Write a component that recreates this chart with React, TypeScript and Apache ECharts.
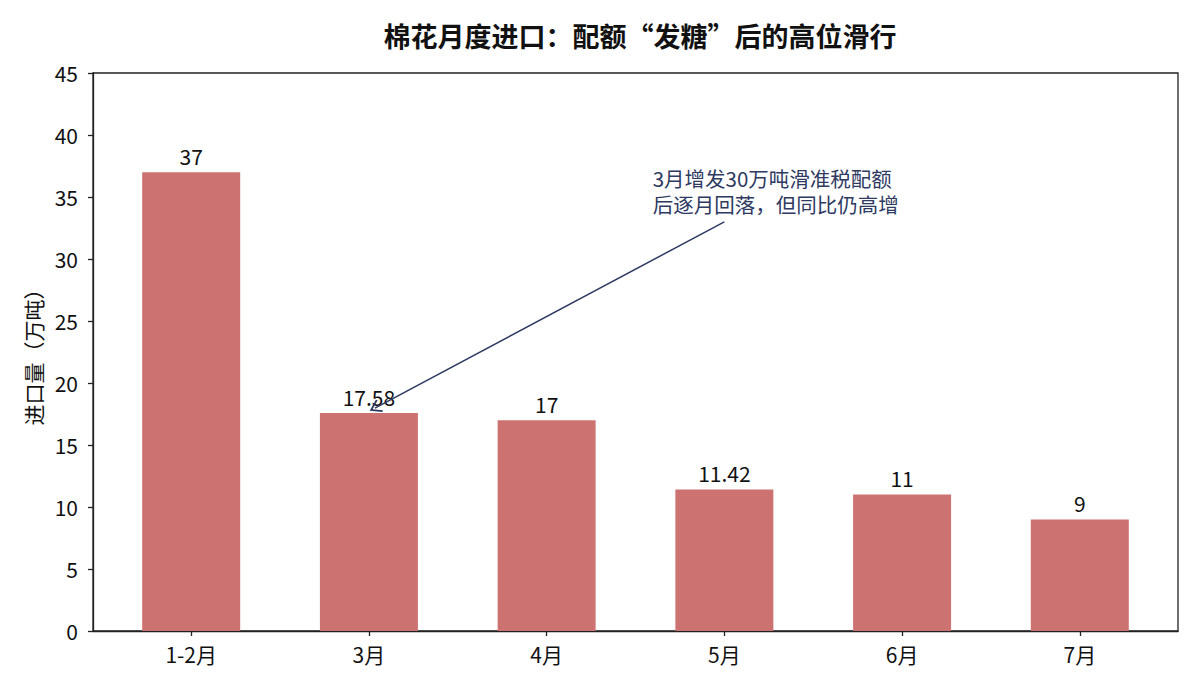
import React, { useEffect, useRef } from "react";
import * as echarts from "echarts";

const categories = ["1-2月", "3月", "4月", "5月", "6月", "7月"];
const importVolumes = [37, 17.58, 17, 11.42, 11, 9];
const yMin = 0;
const yMax = 45;
const yInterval = 5;
const xMin = -0.5525;
const xMax = 5.5525;

const titleText = "棉花月度进口：配额“发糖”后的高位滑行";
const yAxisName = "进口量（万吨）";
const noteLines = ["3月增发30万吨滑准税配额", "后逐月回落，但同比仍高增"];
const noteLineY = [36.55, 34.42];
const noteLeftX = 2.597;
const arrowFrom = [3.0, 33.0];
const arrowTo = [1.034, 17.98];

const FONT = "'Noto Sans CJK SC', 'Noto Sans', sans-serif";
const BAR_COLOR = "#CC7371";
const NOTE_COLOR = "#2E3A62";
const AXIS_COLOR = "#222222";
const FS = 21;

export default function App() {
  const ref = useRef<HTMLDivElement>(null);

  useEffect(() => {
    if (!ref.current) return;
    const chart = echarts.init(ref.current, null, { renderer: "svg" });
    const tickValues = categories.map((_, i) => i);
    chart.setOption({
      animation: false,
      backgroundColor: "#ffffff",
      textStyle: { fontFamily: FONT },
      title: {
        text: titleText,
        left: 635,
        top: 17,
        textAlign: "center",
        textStyle: { fontFamily: FONT, fontSize: 27, fontWeight: "bold", color: "#111" },
      },
      grid: {
        left: 93,
        right: 22,
        top: 73,
        bottom: 59,
        show: true,
        borderColor: AXIS_COLOR,
        borderWidth: 1.3,
        backgroundColor: "transparent",
      },
      xAxis: {
        type: "value",
        min: xMin,
        max: xMax,
        splitLine: { show: false },
        axisLine: { show: true, onZero: false, lineStyle: { color: AXIS_COLOR, width: 1.3 } },
        axisTick: {
          show: true,
          inside: false,
          length: 5,
          customValues: tickValues,
          lineStyle: { color: AXIS_COLOR, width: 1.3 },
        },
        axisLabel: {
          customValues: tickValues,
          margin: 12,
          fontSize: FS,
          color: "#111",
          fontFamily: FONT,
          formatter: (v: number) => {
            const i = Math.round(v);
            return Math.abs(v - i) < 1e-6 && categories[i] ? categories[i] : "";
          },
        },
      },
      yAxis: {
        type: "value",
        min: yMin,
        max: yMax,
        interval: yInterval,
        name: yAxisName,
        nameLocation: "middle",
        nameGap: 47,
        nameTextStyle: { fontSize: FS, color: "#111", fontFamily: FONT },
        splitLine: { show: false },
        axisLine: { show: true, onZero: false, lineStyle: { color: AXIS_COLOR, width: 1.3 } },
        axisTick: { show: true, inside: false, length: 5, lineStyle: { color: AXIS_COLOR, width: 1.3 } },
        axisLabel: { margin: 15, fontSize: FS, color: "#111", fontFamily: FONT },
      },
      series: [
        {
          type: "bar",
          barWidth: 98,
          data: importVolumes.map((v, i) => [i, v]),
          itemStyle: { color: BAR_COLOR },
          label: {
            show: true,
            position: "top",
            distance: 6,
            fontSize: FS,
            color: "#111",
            fontFamily: FONT,
            formatter: (p: any) => String(p.value[1]),
          },
          markLine: {
            silent: true,
            symbol: ["none", "path://M5,0 L10,8.4 L9,9.4 L5,2.6 L1,9.4 L0,8.4 Z"],
            symbolSize: [14, 12],
            label: { show: false },
            lineStyle: { color: NOTE_COLOR, width: 1.5, type: "solid" },
            itemStyle: { color: NOTE_COLOR },
            data: [[{ coord: arrowFrom }, { coord: arrowTo }]],
          },
          markPoint: {
            silent: true,
            symbol: "circle",
            symbolSize: 0,
            data: noteLines.map((t, i) => ({
              coord: [noteLeftX, noteLineY[i]],
              label: {
                show: true,
                position: "inside",
                formatter: t,
                fontSize: 20.5,
                lineHeight: 21,
                color: NOTE_COLOR,
                fontFamily: FONT,
                align: "left",
                verticalAlign: "middle",
              },
            })),
          },
        },
      ],
    });
    return () => chart.dispose();
  }, []);

  return (
    <div
      ref={ref}
      style={{ position: "fixed", left: 0, top: 0, width: 1200, height: 690, background: "#fff" }}
    />
  );
}
